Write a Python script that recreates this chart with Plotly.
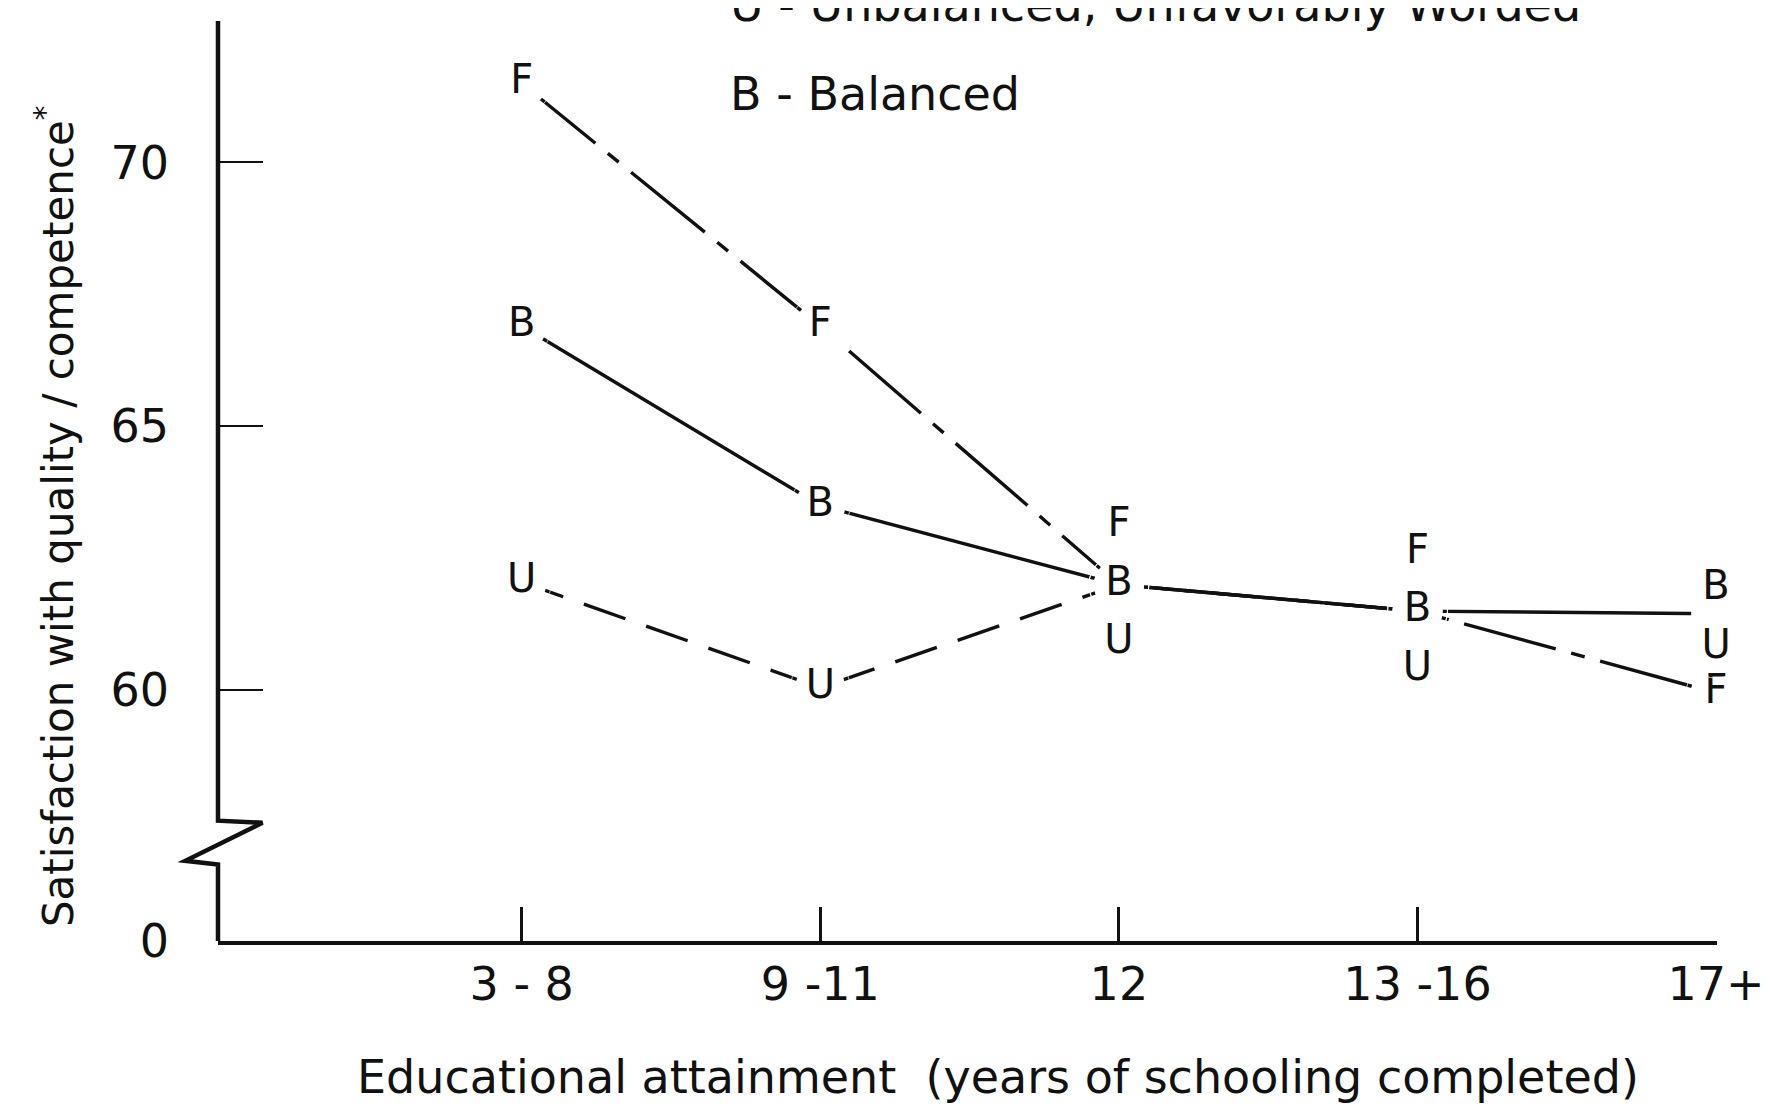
import plotly.graph_objects as go

# ---------------- data ----------------
categories = ["3 - 8", "9 -11", "12", "13 -16", "17+"]
favorable = [71.5, 66.9, 62.0, 61.5, 59.95]     # F
balanced = [66.9, 63.5, 62.0, 61.5, 61.45]      # B
unfavorable = [62.05, 60.05, 62.0, 61.5, 60.8]  # U
y_tick_values = [60, 65, 70]
y_tick_labels = ["60", "65", "70"]
legend_lines = ["U - Unbalanced, Unfavorably Worded", "B - Balanced"]

# ---------------- layout constants ----------------
FONT = "DejaVu Sans"
INK = "#111111"
Y_BASE, Y_TOP = 55.25, 72.68
xs = list(range(len(categories)))

fig = go.Figure()

# connecting lines
fig.add_trace(go.Scatter(x=xs, y=favorable, mode="lines",
                         line=dict(color=INK, width=3.4, dash="95px,16px,14px,16px"),
                         hoverinfo="skip"))
fig.add_trace(go.Scatter(x=xs, y=balanced, mode="lines",
                         line=dict(color=INK, width=3.4), hoverinfo="skip"))
fig.add_trace(go.Scatter(x=xs[:4], y=unfavorable[:4], mode="lines",
                         line=dict(color=INK, width=3.4, dash="44px,22px"),
                         hoverinfo="skip"))

# white gaps around the letter markers
fig.add_trace(go.Scatter(x=xs * 3, y=favorable + balanced + unfavorable,
                         mode="markers",
                         marker=dict(size=50, color="white", line=dict(width=0)),
                         cliponaxis=False, hoverinfo="skip"))

# letter markers
def letters(vals, letter, positions, sizes):
    return go.Scatter(x=xs, y=vals, mode="markers+text",
                      text=[letter] * len(vals), textposition=positions,
                      marker=dict(size=sizes, color="rgba(0,0,0,0)"),
                      textfont=dict(family=FONT, size=40, color=INK),
                      cliponaxis=False, hoverinfo="skip")

mc = "middle center"
fig.add_trace(letters(favorable, "F",
                      [mc, mc, "top center", "top center", mc],
                      [60, 60, 60, 60, 60]))
fig.add_trace(letters(balanced, "B",
                      [mc, mc, mc, mc, "top center"],
                      [60, 60, 60, 60, 6]))
fig.add_trace(letters(unfavorable, "U",
                      [mc, mc, "bottom center", "bottom center", mc],
                      [60, 60, 60, 60, 60]))

# broken y axis line
ax_path = (f"M 0,{Y_TOP} L 0,57.53 L 0.0297,57.49 L -0.0218,56.77 "
           f"L 0,56.70 L 0,{Y_BASE}")
fig.add_shape(type="path", path=ax_path, xref="paper", yref="y",
              line=dict(color=INK, width=4.5), layer="above")

annotations = [
    dict(text="Educational attainment  (years of schooling completed)",
         x=0.5205, y=-0.1478, xref="paper", yref="paper",
         xanchor="center", yanchor="middle", showarrow=False,
         font=dict(family=FONT, size=46, color=INK)),
    dict(text="Satisfaction with quality / competence<sup>*</sup>",
         x=-0.108, y=0.462, xref="paper", yref="paper", textangle=-90,
         xanchor="center", yanchor="middle", showarrow=False,
         font=dict(family=FONT, size=42, color=INK)),
    dict(text=legend_lines[0], x=0.340, y=1.0174, xref="paper", yref="paper",
         xanchor="left", yanchor="middle", showarrow=False,
         font=dict(family=FONT, size=46, color=INK)),
    dict(text=legend_lines[1], x=0.340, y=0.9207, xref="paper", yref="paper",
         xanchor="left", yanchor="middle", showarrow=False,
         font=dict(family=FONT, size=46, color=INK)),
]

fig.update_layout(
    width=1769, height=1106,
    margin=dict(l=210, r=44, t=13, b=173),
    paper_bgcolor="white", plot_bgcolor="white",
    showlegend=False,
    annotations=annotations,
    xaxis=dict(range=[-1.017, 4.003], tickvals=xs, ticktext=categories,
               showgrid=False, zeroline=False,
               showline=True, linecolor=INK, linewidth=4,
               ticks="inside", ticklen=34, tickwidth=2.5, tickcolor=INK,
               ticklabelstandoff=0, ticklabeloverflow="allow",
               tickfont=dict(family=FONT, size=46, color=INK)),
    yaxis=dict(range=[Y_BASE, Y_TOP],
               tickvals=[Y_BASE] + y_tick_values,
               ticktext=["0"] + y_tick_labels,
               showgrid=False, zeroline=False, showline=False,
               ticks="inside", ticklen=45, tickwidth=2, tickcolor=INK,
               ticklabelstandoff=48,
               tickfont=dict(family=FONT, size=46, color=INK)),
)

fig.write_html("out.html")
